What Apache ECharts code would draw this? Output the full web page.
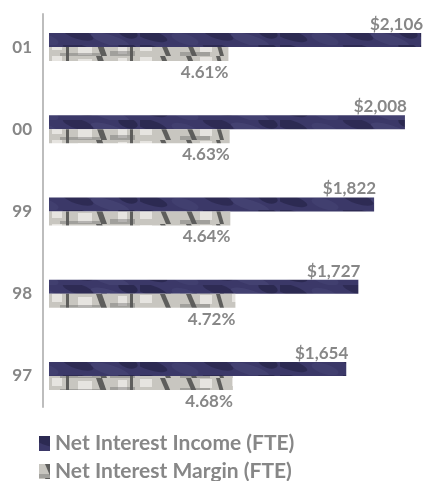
<!DOCTYPE html>
<html>
<head>
<meta charset="utf-8">
<script src="https://cdn.jsdelivr.net/npm/echarts@6/dist/echarts.min.js"></script>
<style>
  html, body { margin: 0; padding: 0; background: #fff; }
  #chart { width: 425px; height: 481px; }
</style>
</head>
<body>
<div id="chart"></div>
<script>
const years = ['01', '00', '99', '98', '97']
const incomeValues = [2106, 2008, 1822, 1727, 1654]
const marginValues = [4.61, 4.63, 4.64, 4.72, 4.68]
const seriesNames = ['Net Interest Income (FTE)', 'Net Interest Margin (FTE)']

const textGray = '#878787'
const font = 'Lato, "Open Sans", sans-serif'

// textures for the bars (photo-like fills in the original)
const makeNavy = () => {
  const c = document.createElement('canvas')
  c.width = 140; c.height = 15
  const g = c.getContext('2d')
  g.fillStyle = '#3b3868'
  g.fillRect(0, 0, 140, 15)
  const blobs = [[10, 5, 18, 'rgba(30,28,60,0.5)'], [45, 9, 14, 'rgba(80,78,130,0.3)'],
    [78, 4, 16, 'rgba(28,26,55,0.4)'], [110, 10, 20, 'rgba(90,90,140,0.25)'], [128, 3, 10, 'rgba(25,24,50,0.45)']]
  blobs.forEach(([x, y, r, col]) => {
    g.fillStyle = col
    g.beginPath(); g.ellipse(x, y, r, 5, 0.3, 0, Math.PI * 2); g.fill()
  })
  return c
}

const makeGray = () => {
  const c = document.createElement('canvas')
  c.width = 180; c.height = 14
  const g = c.getContext('2d')
  g.fillStyle = '#c8c6c0'
  g.fillRect(0, 0, 180, 14)
  // lighter window-like blocks
  g.fillStyle = 'rgba(232,230,225,0.95)'
  ;[[20, 1, 12, 9], [52, 0, 10, 8], [78, 3, 14, 10], [118, 2, 9, 10], [140, 1, 12, 8]].forEach(([x, y, w, h]) => g.fillRect(x, y, w, h))
  // dark diagonal and vertical strokes
  g.fillStyle = 'rgba(68,68,66,0.8)'
  const slants = [[6, 5, 6], [36, 4, 4], [66, 3, 0], [96, 6, 5], [130, 3, 0], [160, 5, 6]]
  slants.forEach(([x, w, s]) => {
    g.beginPath(); g.moveTo(x, 0); g.lineTo(x + w, 0); g.lineTo(x + w + s, 14); g.lineTo(x + s, 14); g.closePath(); g.fill()
  })
  g.fillStyle = 'rgba(90,90,88,0.35)'
  ;[[0, 10, 30, 4], [60, 11, 40, 3], [110, 9, 25, 5]].forEach(([x, y, w, h]) => g.fillRect(x, y, w, h))
  return c
}

const navyFill = { image: makeNavy(), repeat: 'repeat' }
const grayFill = { image: makeGray(), repeat: 'repeat' }

const chart = echarts.init(document.getElementById('chart'))

const labelText = { color: textGray, fontFamily: font, fontWeight: 'bold', fontSize: 17 }
const legendText = { color: textGray, fontFamily: font, fontWeight: 'bold', fontSize: 21 }

const option = {
  animation: false,
  grid: [
    { left: 49, right: 0, top: 6, height: 411 },
    { left: 43, width: 1, top: 14, height: 393 }
  ],
  xAxis: [
    { type: 'value', gridIndex: 0, min: -139, max: 2129, startValue: -139, show: false },
    { type: 'value', gridIndex: 0, min: 1.79, max: 7.70, startValue: 1.79, show: false },
    { type: 'value', gridIndex: 1, show: false }
  ],
  yAxis: [
    {
      type: 'category', gridIndex: 0, data: years, inverse: true, offset: 6,
      axisLine: { show: false }, axisTick: { show: false },
      axisLabel: { margin: 11, ...labelText }
    },
    {
      type: 'value', gridIndex: 1, min: 0, max: 1,
      axisLine: { show: true, onZero: false, lineStyle: { color: '#bdbdbd', width: 2 } },
      axisTick: { show: false }, axisLabel: { show: false }, splitLine: { show: false }
    }
  ],
  legend: [
    {
      left: 39, top: 433, itemWidth: 11, itemHeight: 15, icon: 'rect', padding: 0,
      textStyle: legendText, data: [seriesNames[0]]
    },
    {
      left: 39, top: 461, itemWidth: 11, itemHeight: 15, icon: 'rect', padding: 0,
      textStyle: legendText, data: [seriesNames[1]]
    }
  ],
  series: [
    {
      name: seriesNames[0], type: 'bar', xAxisIndex: 0, yAxisIndex: 0,
      data: incomeValues, barWidth: 14, barGap: '0%',
      itemStyle: { color: navyFill },
      label: {
        show: true, position: ['100%', 0], align: 'right', verticalAlign: 'bottom', offset: [2, 0],
        formatter: p => '$' + p.value.toLocaleString('en-US'), ...labelText
      }
    },
    {
      name: seriesNames[1], type: 'bar', xAxisIndex: 1, yAxisIndex: 0,
      data: marginValues, barWidth: 14, barGap: '0%',
      itemStyle: { color: grayFill },
      label: {
        show: true, position: ['100%', '100%'], align: 'right', verticalAlign: 'top', offset: [0, 3],
        formatter: p => p.value.toFixed(2) + '%', ...labelText
      }
    }
  ]
}

chart.setOption(option)
</script>
</body>
</html>
